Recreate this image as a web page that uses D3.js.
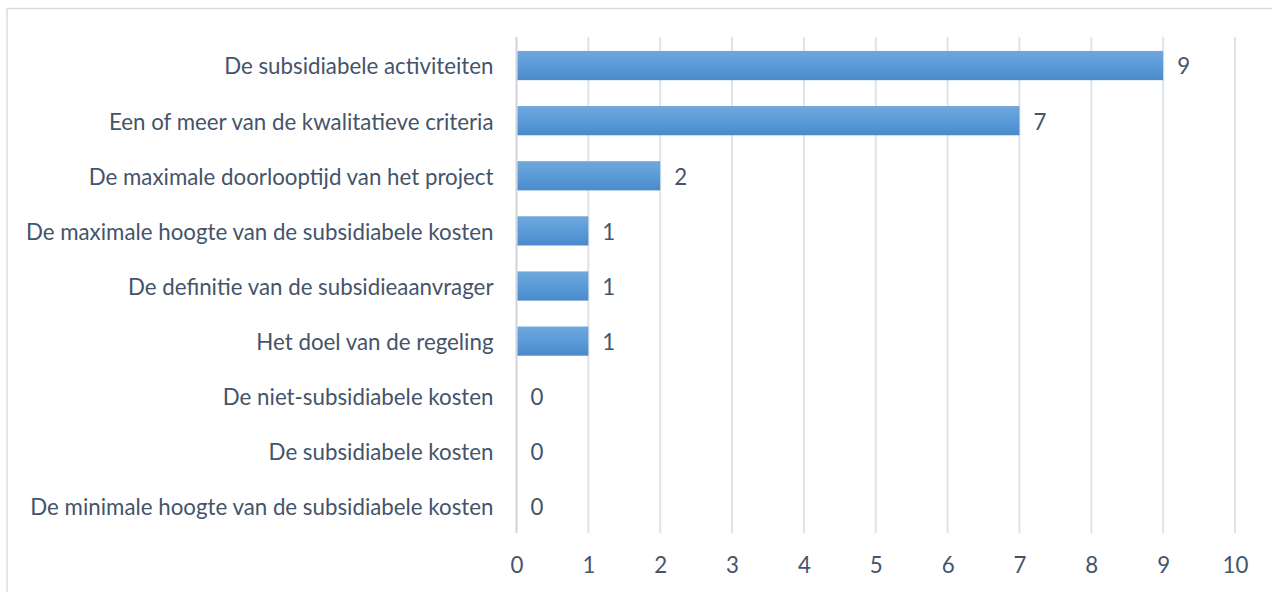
<!DOCTYPE html>
<html><head><meta charset="utf-8">
<script src="https://cdn.jsdelivr.net/npm/d3@7"></script>
<style>
html,body{margin:0;padding:0;background:#fff;}
svg{display:block;}
</style></head>
<body>
<script>
const categories = [
  "De subsidiabele activiteiten",
  "Een of meer van de kwalitatieve criteria",
  "De maximale doorlooptijd van het project",
  "De maximale hoogte van de subsidiabele kosten",
  "De definitie van de subsidieaanvrager",
  "Het doel van de regeling",
  "De niet-subsidiabele kosten",
  "De subsidiabele kosten",
  "De minimale hoogte van de subsidiabele kosten"
];
const values = [9, 7, 2, 1, 1, 1, 0, 0, 0];
const xTicks = [0,1,2,3,4,5,6,7,8,9,10];

const W = 1272, H = 592;
const svg = d3.select("body").append("svg").attr("width", W).attr("height", H);
const defs = svg.append("defs");
const grad = defs.append("linearGradient").attr("id","bg").attr("x1",0).attr("y1",0).attr("x2",0).attr("y2",1);
grad.append("stop").attr("offset","0%").attr("stop-color","#70a7dc");
grad.append("stop").attr("offset","50%").attr("stop-color","#5b9bd8");
grad.append("stop").attr("offset","100%").attr("stop-color","#4a8acb");

svg.append("rect").attr("x",7).attr("y",8.5).attr("width",W+10).attr("height",H+10)
  .attr("fill","#fff").attr("stroke","#d9dde2").attr("stroke-width",1.5);

const x0 = 516.5, x1 = 1235;
const y0 = 37, y1 = 533;
const x = d3.scaleLinear().domain([0,10]).range([x0,x1]);
const y = d3.scaleBand().domain(categories).range([y0+1,y1+1]).paddingInner(0.47).paddingOuter(0.235);

const font = "Lato, 'Open Sans', sans-serif";
const fs = "22.3px";
const txt = "#44546a";

svg.append("g").selectAll("line").data(xTicks).join("line")
  .attr("x1", d=>x(d)).attr("x2", d=>x(d)).attr("y1", y0).attr("y2", y1)
  .attr("stroke", d=> d===0 ? "#d0d4da" : "#dfe3e9").attr("stroke-width", 2);

const xAxis = d3.axisBottom(x).tickValues(xTicks).tickSize(0).tickPadding(0).tickFormat(d3.format("d"));
const gx = svg.append("g").attr("transform",`translate(0,${y1})`).call(xAxis);
gx.select(".domain").remove();
gx.selectAll("text").attr("dy", null).attr("y", 40).attr("fill", txt)
  .style("font-family", font).style("font-size",fs);

const yAxis = d3.axisLeft(y).tickSize(0).tickPadding(0);
const gy = svg.append("g").attr("transform",`translate(${x0-23},0)`).call(yAxis);
gy.select(".domain").remove();
gy.selectAll("text").attr("fill", txt).attr("dy","0.40em").style("font-family", font).style("font-size",fs);

svg.append("g").selectAll("rect").data(values).join("rect")
  .attr("x", x(0)+1).attr("y", (d,i)=>y(categories[i]))
  .attr("width", d=> Math.max(0, x(d)-x(0)-1)).attr("height", y.bandwidth())
  .attr("fill","url(#bg)");

svg.append("g").selectAll("text").data(values).join("text")
  .attr("x", d=>x(d)+14).attr("y", (d,i)=>y(categories[i])+y.bandwidth()/2)
  .attr("dy","0.40em").attr("fill", txt)
  .style("font-family", font).style("font-size",fs)
  .text(d=>d);
</script>
</body></html>
